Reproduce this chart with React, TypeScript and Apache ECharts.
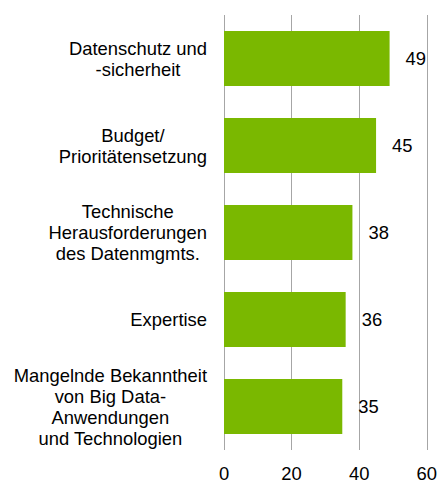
import React, { useEffect, useRef } from "react";
import * as echarts from "echarts";

const categories: string[] = [
  "Datenschutz und\n-sicherheit",
  "Budget/\nPrioritätensetzung",
  "Technische\nHerausforderungen\ndes Datenmgmts.",
  "Expertise",
  "Mangelnde Bekanntheit\nvon Big Data-\nAnwendungen\nund Technologien",
];
const values: number[] = [49, 45, 38, 36, 35];
const xTicks: number[] = [0, 20, 40, 60];

const FONT = 'Arial, "Liberation Sans", sans-serif';

export default function App() {
  const ref = useRef<HTMLDivElement>(null);
  useEffect(() => {
    if (!ref.current) return;
    const chart = echarts.init(ref.current, null, { renderer: "svg" });
    chart.setOption({
      animation: false,
      backgroundColor: "#ffffff",
      grid: { left: 224, right: 12, top: 15, bottom: 29, containLabel: false },
      xAxis: {
        type: "value",
        min: xTicks[0],
        max: xTicks[xTicks.length - 1],
        interval: xTicks[1] - xTicks[0],
        axisLine: { show: false },
        axisTick: { show: false },
        splitLine: { show: true, lineStyle: { color: "#a6a6a6", width: 1 } },
        axisLabel: {
          color: "#000",
          fontSize: 18.4,
          fontFamily: FONT,
          margin: 14,
        },
      },
      yAxis: {
        type: "category",
        data: categories,
        inverse: true,
        axisLine: { show: false },
        axisTick: { show: false },
        splitLine: { show: false },
        axisLabel: {
          margin: 17,
          align: "right",
          formatter: (v: string) =>
            v
              .split("\n")
              .map((l) => `{c|${l}}`)
              .join("\n"),
          rich: {
            c: {
              align: "center",
              color: "#000",
              fontSize: 18.4,
              fontFamily: FONT,
              lineHeight: 21,
            },
          },
        },
      },
      series: [
        {
          type: "bar",
          data: values,
          barCategoryGap: "37%",
          itemStyle: { color: "#7AB800" },
          label: {
            show: true,
            position: "right",
            distance: 16,
            color: "#000",
            fontSize: 18.4,
            fontFamily: FONT,
          },
        },
      ],
    });
    return () => chart.dispose();
  }, []);
  return (
    <div
      ref={ref}
      style={{ position: "fixed", left: 0, top: 0, width: 440, height: 482 }}
    />
  );
}
